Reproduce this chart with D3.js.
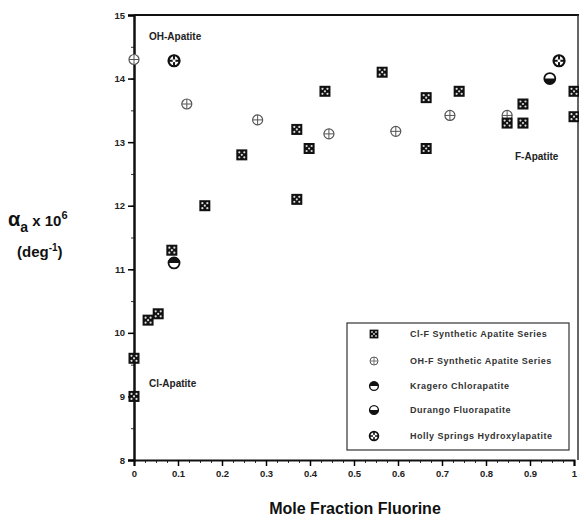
<!DOCTYPE html>
<html>
<head>
<meta charset="utf-8">
<script src="https://cdn.jsdelivr.net/npm/d3@7"></script>
<style>
  body { margin: 0; background: #fff; }
  svg { font-family: Arial, "Liberation Sans", sans-serif; }
  .tick text { font-size: 9.5px; font-weight: bold; fill: #222; }
</style>
</head>
<body>
<svg id="chart" width="579" height="518"></svg>
<script>
// Cl-F synthetic apatite series
const clfX = [0, 0, 0.032, 0.055, 0.086, 0.161, 0.245, 0.37, 0.37, 0.398, 0.434, 0.564, 0.664, 0.664, 0.739, 0.848, 0.884, 0.884, 1.0, 1.0];
const clfY = [9.0, 9.6, 10.2, 10.3, 11.3, 12.0, 12.8, 13.2, 12.1, 12.9, 13.8, 14.1, 13.7, 12.9, 13.8, 13.3, 13.6, 13.3, 13.8, 13.4];
// OH-F synthetic apatite series
const ohfX = [0, 0.12, 0.281, 0.443, 0.595, 0.718, 0.848];
const ohfY = [14.3, 13.6, 13.35, 13.13, 13.17, 13.42, 13.42];
// natural samples
const krageroX = [0.091], krageroY = [11.1];
const durangoX = [0.945], durangoY = [14.0];
const hollyX = [0.091, 0.966], hollyY = [14.28, 14.28];

const xTicks = [0, 0.1, 0.2, 0.3, 0.4, 0.5, 0.6, 0.7, 0.8, 0.9, 1];
const yTicks = [8, 9, 10, 11, 12, 13, 14, 15];
const legendLabels = ['Cl-F Synthetic Apatite Series', 'OH-F Synthetic Apatite Series',
  'Kragero Chlorapatite', 'Durango Fluorapatite', 'Holly Springs Hydroxylapatite'];

const svg = d3.select('#chart');
const x = d3.scaleLinear().domain([0, 1]).range([134, 574]);
const y = d3.scaleLinear().domain([8, 15]).range([460, 15]);

// frame (top + right)
svg.append('line').attr('x1', 134).attr('x2', 579).attr('y1', 15).attr('y2', 15)
  .attr('stroke', '#111').attr('stroke-width', 2);
svg.append('line').attr('x1', 578).attr('x2', 578).attr('y1', 15).attr('y2', 460)
  .attr('stroke', '#333').attr('stroke-width', 1.5);

// minor ticks
svg.append('g').attr('transform', 'translate(0,460)')
  .call(d3.axisBottom(x).tickValues(d3.range(0, 1.001, 0.025)).tickFormat('').tickSize(3))
  .call(g => g.select('.domain').remove())
  .call(g => g.selectAll('line').attr('stroke', '#333'));
svg.append('g').attr('transform', 'translate(134,0)')
  .call(d3.axisLeft(y).tickValues(d3.range(8, 15.01, 0.5)).tickFormat('').tickSize(3))
  .call(g => g.select('.domain').remove())
  .call(g => g.selectAll('line').attr('stroke', '#333'));

const xAxis = svg.append('g').attr('transform', 'translate(0,460)')
  .call(d3.axisBottom(x).tickValues(xTicks).tickFormat(d => d).tickSize(6).tickPadding(4));
xAxis.select('.domain').attr('stroke', '#111').attr('stroke-width', 2);
xAxis.selectAll('line').attr('stroke-width', 1.5);

const yAxis = svg.append('g').attr('transform', 'translate(134,0)')
  .call(d3.axisLeft(y).tickValues(yTicks).tickFormat(d3.format('d')).tickSize(6).tickPadding(3));
yAxis.select('.domain').attr('stroke', '#111').attr('stroke-width', 2.5);
yAxis.selectAll('line').attr('stroke-width', 1.5);

// marker drawing
function square(g) {
  g.append('rect').attr('x', -5.5).attr('y', -5.5).attr('width', 11).attr('height', 11).attr('fill', '#111');
  [[-2.5, -2.5], [2.5, -2.5], [-2.5, 2.5], [2.5, 2.5], [0, 0]].forEach(([dx, dy]) =>
    g.append('circle').attr('cx', dx).attr('cy', dy).attr('r', 1.1).attr('fill', '#ddd'));
}
function crossCircle(g) {
  g.append('circle').attr('r', 5).attr('fill', '#fff').attr('stroke', '#555').attr('stroke-width', 1.2);
  g.append('path').attr('d', 'M-5,0H5M0,-5V5').attr('stroke', '#555').attr('stroke-width', 1);
}
function halfCircle(top) {
  return g => {
    g.append('circle').attr('r', 5.5).attr('fill', '#fff').attr('stroke', '#111').attr('stroke-width', 1.8);
    g.append('path').attr('d', top ? 'M-5.5,0A5.5,5.5 0 0 1 5.5,0Z' : 'M-5.5,0A5.5,5.5 0 0 0 5.5,0Z').attr('fill', '#111');
  };
}
function holly(g) {
  g.append('circle').attr('r', 5.5).attr('fill', '#fff').attr('stroke', '#111').attr('stroke-width', 2.2);
  g.append('path').attr('d', 'M-6,0H6M0,-6V6').attr('stroke', '#111').attr('stroke-width', 2);
  g.append('circle').attr('r', 1.5).attr('fill', '#fff');
}

function plot(xs, ys, draw) {
  xs.forEach((v, i) => {
    const g = svg.append('g').attr('transform', `translate(${x(v)},${y(ys[i])})`);
    draw(g);
  });
}
plot(ohfX, ohfY, crossCircle);
plot(clfX, clfY, square);
plot(krageroX, krageroY, halfCircle(true));
plot(durangoX, durangoY, halfCircle(false));
plot(hollyX, hollyY, holly);

// annotations
const ann = [['OH-Apatite', 149, 40], ['Cl-Apatite', 149, 387], ['F-Apatite', 515, 160]];
ann.forEach(([t, ax, ay]) => svg.append('text').attr('x', ax).attr('y', ay)
  .attr('font-size', 10).attr('font-weight', 'bold').attr('fill', '#222').text(t));

// legend
svg.append('rect').attr('x', 347).attr('y', 323).attr('width', 222).attr('height', 127)
  .attr('fill', '#fff').attr('stroke', '#333').attr('stroke-width', 1.2);
const legendDraw = [square, crossCircle, halfCircle(true), halfCircle(false), holly];
const legendY = [334, 361, 386, 410, 436];
legendLabels.forEach((l, i) => {
  const g = svg.append('g').attr('transform', `translate(374,${legendY[i]}) scale(0.8)`);
  legendDraw[i](g);
  svg.append('text').attr('x', 410).attr('y', legendY[i] + 3).attr('font-size', 9)
    .attr('letter-spacing', 0.5).attr('font-weight', 'bold').attr('fill', '#333').text(l);
});

// axis titles
svg.append('text').attr('x', 355).attr('y', 514).attr('text-anchor', 'middle')
  .attr('font-size', 16).attr('font-weight', 'bold').attr('fill', '#111').text('Mole Fraction Fluorine');
const t1 = svg.append('text').attr('x', 8).attr('y', 226).attr('font-size', 20).attr('font-weight', 'bold').attr('fill', '#111');
t1.append('tspan').text('α');
t1.append('tspan').attr('font-size', 14).attr('dy', 6).text('a');
t1.append('tspan').attr('dy', -6).attr('font-size', 15).text(' x 10');
t1.append('tspan').attr('font-size', 11).attr('dy', -7).text('6');
const t2 = svg.append('text').attr('x', 17).attr('y', 257).attr('font-size', 15).attr('font-weight', 'bold').attr('fill', '#111');
t2.append('tspan').text('(deg');
t2.append('tspan').attr('font-size', 10).attr('dy', -6).text('-1');
t2.append('tspan').attr('dy', 6).text(')');
</script>
</body>
</html>
